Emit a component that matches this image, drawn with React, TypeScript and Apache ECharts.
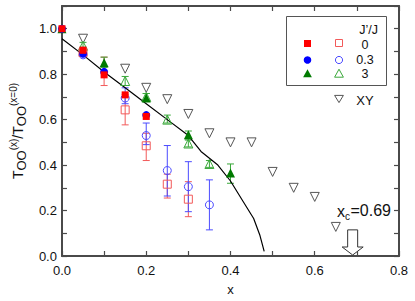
import React, { useEffect, useRef } from "react";
import * as echarts from "echarts";

const FONT = "'Liberation Sans', Arial, sans-serif";

// J'/J = 0 (red)
const redFilled: number[][] = [[0, 1.0], [0.05, 0.905], [0.1, 0.797], [0.15, 0.709], [0.2, 0.614]];
const redFilledErr: number[][] = [[0.05, 0.885, 0.92], [0.1, 0.75, 0.875]];
const redOpen: number[][] = [[0.05, 0.895], [0.15, 0.643], [0.2, 0.485], [0.25, 0.316], [0.3, 0.25]];
const redOpenErr: number[][] = [[0.15, 0.577, 0.71], [0.2, 0.42, 0.54], [0.25, 0.255, 0.36], [0.3, 0.173, 0.327]];

// J'/J = 0.3 (blue)
const blueFilled: number[][] = [[0, 1.0], [0.05, 0.89], [0.1, 0.81], [0.2, 0.62]];
const blueOpen: number[][] = [[0.05, 0.885], [0.15, 0.695], [0.2, 0.53], [0.25, 0.376], [0.3, 0.305], [0.35, 0.225]];
const blueOpenErr: number[][] = [[0.15, 0.67, 0.74], [0.2, 0.49, 0.585], [0.25, 0.264, 0.486], [0.3, 0.195, 0.415], [0.35, 0.115, 0.335]];

// J'/J = 3 (green)
const greenFilled: number[][] = [[0, 1.0], [0.1, 0.85], [0.2, 0.695], [0.3, 0.533], [0.4, 0.365]];
const greenFilledErr: number[][] = [[0.1, 0.83, 0.875], [0.2, 0.68, 0.715], [0.3, 0.515, 0.55], [0.4, 0.32, 0.405]];
const greenOpen: number[][] = [[0.05, 0.925], [0.15, 0.77], [0.2, 0.7], [0.25, 0.6], [0.3, 0.495], [0.35, 0.405]];
const greenOpenErr: number[][] = [[0.05, 0.91, 0.94], [0.15, 0.75, 0.79], [0.2, 0.685, 0.715], [0.25, 0.585, 0.62], [0.3, 0.48, 0.51], [0.35, 0.39, 0.42]];

// XY
const xyData: number[][] = [[0.05, 0.956], [0.15, 0.824], [0.2, 0.74], [0.25, 0.69], [0.3, 0.625], [0.35, 0.54], [0.4, 0.5], [0.45, 0.5], [0.5, 0.37], [0.55, 0.3], [0.6, 0.26], [0.65, 0.128]];

// theory curve
const curve: number[][] = [[0, 0.956], [0.05, 0.885], [0.1, 0.81], [0.15, 0.74], [0.2, 0.67], [0.25, 0.6], [0.3, 0.53], [0.33, 0.46], [0.37, 0.4], [0.4, 0.33], [0.43, 0.24], [0.455, 0.165], [0.47, 0.09], [0.48, 0.02]];

// critical concentration arrow [x, top]
const xcArrow: number[][] = [[0.69, 0.115]];

const xTicks = [0, 0.2, 0.4, 0.6, 0.8];
const yTicks = [0, 0.2, 0.4, 0.6, 0.8, 1.0];

const RED = "#ff0000";
const RED_L = "#f25a5a";
const BLUE = "#0000ff";
const BLUE_L = "#4b4bff";
const GREEN = "#007a00";
const GREEN_L = "#3aa83a";
const AXIS = "#4a4a4a";

function errSeries(data: number[][], color: string) {
  return {
    type: "custom",
    z: 2,
    encode: { x: 0, y: [1, 2] },
    data,
    renderItem: (params: any, api: any) => {
      const x = api.value(0);
      const p1 = api.coord([x, api.value(1)]);
      const p2 = api.coord([x, api.value(2)]);
      const w = 3.5;
      const st = { stroke: color, lineWidth: 1 };
      return {
        type: "group",
        children: [
          { type: "line", shape: { x1: p1[0], y1: p1[1], x2: p2[0], y2: p2[1] }, style: st },
          { type: "line", shape: { x1: p1[0] - w, y1: p1[1], x2: p1[0] + w, y2: p1[1] }, style: st },
          { type: "line", shape: { x1: p2[0] - w, y1: p2[1], x2: p2[0] + w, y2: p2[1] }, style: st },
        ],
      };
    },
  };
}

function scatter(data: number[][], symbol: string, size: number, fill: string, stroke: string, bw: number, rotate = 0) {
  return {
    type: "scatter",
    z: 4,
    data,
    symbol,
    symbolSize: size,
    symbolRotate: rotate,
    itemStyle: { color: fill, borderColor: stroke, borderWidth: bw, opacity: 1 },
  };
}

const isTick = (v: number, arr: number[]) => arr.some((t) => Math.abs(t - v) < 1e-6);

export default function App() {
  const ref = useRef<HTMLDivElement>(null);
  useEffect(() => {
    if (!ref.current) return;
    const chart = echarts.init(ref.current, undefined, { renderer: "svg" });
    const axisCommon = {
      axisLine: { show: true, onZero: false, lineStyle: { color: AXIS, width: 2 } },
      axisTick: { show: true, inside: true, length: 5, lineStyle: { color: AXIS, width: 1.2 } },
      splitLine: { show: false },
    };
    const legendTri = (cx: number, cy: number, s: number) => [[cx, cy - s * 0.6], [cx + s * 0.55, cy + s * 0.4], [cx - s * 0.55, cy + s * 0.4]];
    const legendTriDown = (cx: number, cy: number, s: number) => [[cx, cy + s * 0.45], [cx + s * 0.55, cy - s * 0.45], [cx - s * 0.55, cy - s * 0.45]];
    const txt = (x: number, y: number, text: string, align: string, size = 12.5) => ({
      type: "text",
      x,
      y,
      style: { text, fill: "#111", font: `${size}px ${FONT}`, align, verticalAlign: "middle" },
    });
    chart.setOption({
      animation: false,
      textStyle: { fontFamily: FONT },
      grid: { left: 59, right: 16, top: 6, bottom: 45 },
      xAxis: [
        {
          type: "value", min: 0, max: 0.8, interval: 0.1, position: "bottom",
          ...axisCommon,
          name: "x", nameLocation: "middle", nameGap: 27,
          nameTextStyle: { fontSize: 13, color: "#111", fontFamily: FONT },
          axisLabel: {
            margin: 8, fontSize: 13, color: "#111", fontFamily: FONT,
            formatter: (v: number) => (isTick(v, xTicks) ? v.toFixed(1) : ""),
          },
        },
        { type: "value", min: 0, max: 0.8, interval: 0.1, position: "top", ...axisCommon, axisLabel: { show: false } },
      ],
      yAxis: [
        {
          type: "value", min: 0, max: 1.1, interval: 0.1, position: "left",
          ...axisCommon,
          name: "{n|T}{o|OO}{s|(x)}{n|/T}{o|OO}{s|(x=0)}",
          nameLocation: "middle", nameGap: 30, nameRotate: 90,
          nameTextStyle: {
            color: "#111",
            rich: {
              n: { fontSize: 14, fontFamily: FONT, lineHeight: 20, verticalAlign: "middle", color: "#111" },
              o: { fontSize: 13, fontFamily: FONT, lineHeight: 17, verticalAlign: "bottom", color: "#111" },
              s: { fontSize: 10, fontFamily: FONT, lineHeight: 10, verticalAlign: "top", color: "#111" },
            },
          },
          axisLabel: {
            margin: 5, fontSize: 13, color: "#111", fontFamily: FONT,
            formatter: (v: number) => (isTick(v, yTicks) ? v.toFixed(1) : ""),
          },
        },
        { type: "value", min: 0, max: 1.1, interval: 0.1, position: "right", ...axisCommon, axisLabel: { show: false } },
      ],
      series: [
        {
          type: "line", z: 3, data: curve, showSymbol: false, symbol: "none",
          lineStyle: { color: "#000", width: 1.2 },
        },
        errSeries(redFilledErr, RED_L),
        errSeries(redOpenErr, RED_L),
        errSeries(blueOpenErr, BLUE_L),
        errSeries(greenFilledErr, GREEN_L),
        errSeries(greenOpenErr, GREEN_L),
        scatter(xyData, "triangle", 9, "#fff", "#555", 1, 180),
        scatter(greenOpen, "triangle", 9, "transparent", GREEN_L, 1),
        scatter(blueOpen, "circle", 8, "transparent", BLUE_L, 1),
        scatter(redOpen, "rect", 8, "transparent", RED_L, 1),
        scatter(greenFilled, "triangle", 9, GREEN, GREEN, 0),
        scatter(blueFilled, "circle", 8, BLUE, BLUE, 0),
        scatter(redFilled, "rect", 7, RED, RED, 0),
        {
          type: "custom",
          z: 5,
          encode: { x: 0, y: 1 },
          data: xcArrow,
          renderItem: (params: any, api: any) => {
            const top = api.coord([api.value(0), api.value(1)]);
            const base = api.coord([api.value(0), 0]);
            const cx = top[0];
            const tipY = base[1] - 1;
            const headY = tipY - 8;
            return {
              type: "polygon",
              shape: {
                points: [
                  [cx - 5, top[1]], [cx + 5, top[1]], [cx + 5, headY], [cx + 10.5, headY],
                  [cx, tipY], [cx - 10.5, headY], [cx - 5, headY],
                ],
              },
              style: { fill: "#fff", stroke: "#333", lineWidth: 1 },
            };
          },
        },
      ],
      graphic: [
        { type: "rect", shape: { x: 286.5, y: 16.5, width: 100, height: 69 }, style: { fill: "none", stroke: "#555", lineWidth: 1 }, z: 10 },
        txt(378, 29.5, "J\u2019/J", "right"),
        { type: "rect", shape: { x: 304, y: 40, width: 7, height: 7 }, style: { fill: RED }, z: 10 },
        { type: "rect", shape: { x: 335.5, y: 39.5, width: 7, height: 7 }, style: { fill: "none", stroke: RED_L, lineWidth: 1 }, z: 10 },
        txt(365, 44.5, "0", "center"),
        { type: "circle", shape: { cx: 307.5, cy: 60, r: 3.8 }, style: { fill: BLUE }, z: 10 },
        { type: "circle", shape: { cx: 339, cy: 60, r: 3.6 }, style: { fill: "none", stroke: BLUE_L, lineWidth: 1 }, z: 10 },
        txt(365, 60, "0.3", "center"),
        { type: "polygon", shape: { points: legendTri(307.5, 74, 8) }, style: { fill: GREEN }, z: 10 },
        { type: "polygon", shape: { points: legendTri(339, 74, 8) }, style: { fill: "none", stroke: GREEN_L, lineWidth: 1 }, z: 10 },
        txt(365, 74, "3", "center"),
        { type: "polygon", shape: { points: legendTriDown(339, 99, 8) }, style: { fill: "#fff", stroke: "#555", lineWidth: 1 }, z: 10 },
        txt(365, 100, "XY", "center", 13),
        txt(337, 211, "x", "left", 16),
        txt(345, 216, "c", "left", 10),
        txt(350.5, 210, "=0.69", "left", 16),
      ],
    });
    return () => chart.dispose();
  }, []);
  return <div ref={ref} style={{ width: 415, height: 301, position: "absolute", left: 0, top: 0 }} />;
}
